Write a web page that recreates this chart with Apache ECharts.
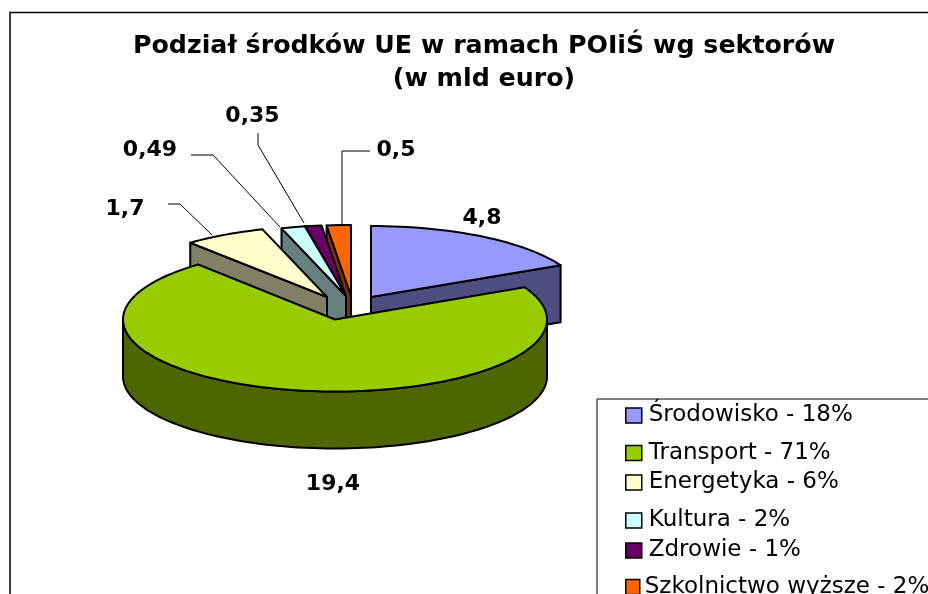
<!DOCTYPE html>
<html>
<head>
<meta charset="utf-8">
<style>
  html, body { margin: 0; padding: 0; background: #fff; }
  #main { width: 928px; height: 594px; }
</style>
<script src="https://cdn.jsdelivr.net/npm/echarts@6/dist/echarts.min.js"></script>
</head>
<body>
<div id="main"></div>
<script>
var categories = ['Środowisko', 'Transport', 'Energetyka', 'Kultura', 'Zdrowie', 'Szkolnictwo wyższe'];
var values = [4.8, 19.4, 1.7, 0.49, 0.35, 0.5];
var shares = [18, 71, 6, 2, 1, 2];
var topColors = ['#9999FF', '#99CC00', '#FFFFCC', '#CCFFFF', '#660066', '#FF6600'];
var wallColors = ['#4D4D80', '#4D6600', '#808066', '#668080', '#330033', '#803300'];

// back slices first, Transport sits in front of everything
var drawOrder = [0, 5, 4, 3, 2, 1];
var total = values.reduce(function (a, b) { return a + b; }, 0);
var FONT = '"DejaVu Sans", Verdana, sans-serif';
var RX = 212, DEPTH = 57;

// where each exploded slice has its apex, and its label + leader line
var layout = [
  { cx: 371, cy: 297, ry: 71, label: [482, 218] },
  { cx: 335, cy: 319.5, ry: 72, label: [333, 484] },
  { cx: 327, cy: 297, ry: 71, label: [125, 209], leader: [[168, 204], [180, 204], [212, 235]] },
  { cx: 346, cy: 296, ry: 71, label: [150, 150], leader: [[191, 155], [213, 155], [280, 227]] },
  { cx: 346, cy: 296, ry: 71, label: [252.5, 116], leader: [[258, 133], [258, 145], [304, 223]] },
  { cx: 351, cy: 296, ry: 71, label: [396, 150], leader: [[370, 151], [342, 151], [342, 224]] }
];
var legendRows = [416, 453.5, 483, 521, 551, 587.5];

function startAngle(i) {
  var sum = 0;
  for (var k = 0; k < i; k++) sum += values[k];
  return sum / total * 360;
}

function ellipsePoint(l, deg, drop) {
  var a = deg * Math.PI / 180;
  return [l.cx + RX * Math.sin(a), l.cy - l.ry * Math.cos(a) + (drop || 0)];
}

function arcPoints(l, from, to, drop) {
  var pts = [];
  var n = Math.max(2, Math.ceil(Math.abs(to - from) / 2));
  for (var k = 0; k <= n; k++) pts.push(ellipsePoint(l, from + (to - from) * k / n, drop));
  return pts;
}

function poly(points, fill) {
  return {
    type: 'polygon',
    shape: { points: points },
    style: { fill: fill, stroke: '#000', lineWidth: 2, lineJoin: 'round' }
  };
}

function cutFace(l, deg, fill) {
  var p = ellipsePoint(l, deg), q = ellipsePoint(l, deg, DEPTH);
  return poly([[l.cx, l.cy], p, q, [l.cx, l.cy + DEPTH]], fill);
}

function makeRender(i) {
  return function (params, api) {
    var l = layout[i];
    var from = startAngle(i);
    var to = from + api.value(0) / total * 360;
    var children = [];

    // only the cut faces turned towards the viewer
    if (Math.sin(from * Math.PI / 180) <= 0) children.push(cutFace(l, from, wallColors[i]));
    if (Math.sin(to * Math.PI / 180) > 0.001) children.push(cutFace(l, to, wallColors[i]));

    // front rim
    var rimFrom = Math.max(from, 90), rimTo = Math.min(to, 270);
    if (rimTo > rimFrom) {
      children.push(poly(
        arcPoints(l, rimFrom, rimTo, 0).concat(arcPoints(l, rimTo, rimFrom, DEPTH)),
        wallColors[i]
      ));
    }

    // top
    children.push(poly([[l.cx, l.cy]].concat(arcPoints(l, from, to, 0)), topColors[i]));

    if (l.leader) {
      children.push({
        type: 'polyline',
        shape: { points: l.leader },
        style: { fill: null, stroke: '#000', lineWidth: 1 }
      });
    }
    return { type: 'group', children: children };
  };
}

// value labels go on a last series so no slice can cover them
function renderLabels(params, api) {
  var i = params.dataIndex;
  return {
    type: 'text',
    style: {
      text: String(api.value(0)).replace('.', ','),
      x: layout[i].label[0],
      y: layout[i].label[1],
      align: 'center',
      verticalAlign: 'middle',
      font: 'bold 22px ' + FONT,
      fill: '#000'
    }
  };
}

var legendNames = categories.map(function (c, i) { return c + ' - ' + shares[i] + '%'; });

var series = drawOrder.map(function (i) {
  return {
    type: 'custom',
    name: legendNames[i],
    coordinateSystem: 'none',
    itemStyle: { color: topColors[i] },
    renderItem: makeRender(i),
    silent: true,
    data: [[values[i]]]
  };
});
series.push({
  type: 'custom',
  coordinateSystem: 'none',
  renderItem: renderLabels,
  silent: true,
  data: values.map(function (v) { return [v]; })
});

var chart = echarts.init(document.getElementById('main'), null, { renderer: 'canvas' });
chart.setOption({
  animation: false,
  backgroundColor: '#fff',
  title: {
    text: 'Podział środków UE w ramach POIiŚ wg sektorów\n(w mld euro)',
    left: 479,
    top: 25,
    textAlign: 'center',
    textStyle: { fontFamily: FONT, fontWeight: 'bold', fontSize: 25.3, lineHeight: 33, color: '#000' }
  },
  legend: legendNames.map(function (name, i) {
    var last = i === legendNames.length - 1;
    return {
      data: [name],
      left: 625,
      top: legendRows[i] - 12,
      padding: 0,
      icon: 'rect',
      itemWidth: last ? 14 : 16,
      itemHeight: 15,
      itemStyle: { borderColor: '#000', borderWidth: 1.5 },
      selectedMode: false,
      textStyle: { fontFamily: FONT, fontSize: 23, color: '#000', padding: last ? 0 : [0, 0, 0, 2] }
    };
  }),
  graphic: [
    { type: 'rect', z: -10, shape: { x: 10, y: 12.5, width: 1000, height: 1000 }, style: { fill: '#fff', stroke: '#000', lineWidth: 1.5 } },
    { type: 'rect', z: -9, shape: { x: 597, y: 399, width: 1000, height: 1000 }, style: { fill: '#fff', stroke: '#000', lineWidth: 1 } }
  ],
  series: series
});
</script>
</body>
</html>
